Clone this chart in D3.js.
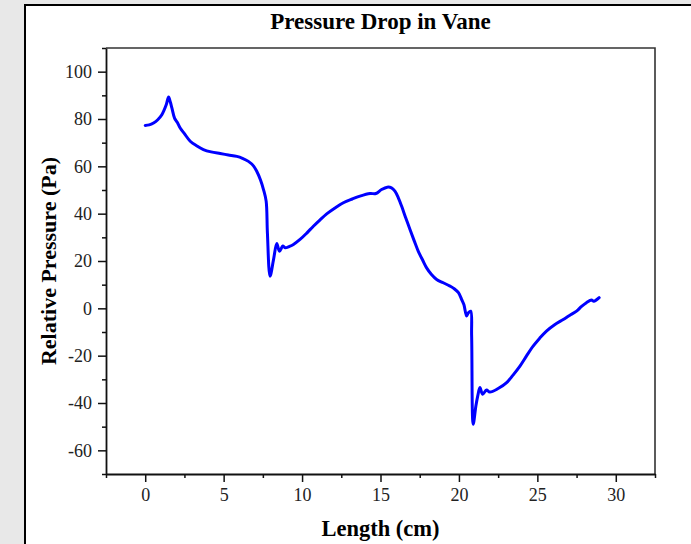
<!DOCTYPE html>
<html><head><meta charset="utf-8">
<script src="https://cdn.jsdelivr.net/npm/d3@7"></script>
<style>
html,body{margin:0;padding:0;background:#e8e8e8;overflow:hidden;}
svg{display:block;}
</style></head>
<body>
<script>
const titleText = "Pressure Drop in Vane";
const xLabel = "Length (cm)";
const yLabel = "Relative Pressure (Pa)";
const xMajorTicks = [0, 5, 10, 15, 20, 25, 30];
const xMinorTicks = [-2.5, 2.5, 7.5, 12.5, 17.5, 22.5, 27.5, 32.5];
const yMajorTicks = [-60, -40, -20, 0, 20, 40, 60, 80, 100];
const yMinorTicks = [-70, -50, -30, -10, 10, 30, 50, 70, 90, 110];
const lengthCm = [0, 0.25, 0.53, 0.8, 1.06, 1.34, 1.49, 1.6, 1.70, 1.87, 2.05, 2.23, 2.5, 2.87, 3.3, 3.71, 4.2, 4.78, 5.3, 5.84, 6.2, 6.58, 6.9, 7.11, 7.35, 7.54, 7.71, 7.79, 7.96, 8.18, 8.39, 8.56, 8.77, 8.92, 9.2, 9.45, 9.87, 10.3, 10.72, 11.15, 11.57, 12.1, 12.63, 13.2, 13.69, 14.33, 14.71, 15.07, 15.43, 15.7, 15.92, 16.15, 16.35, 16.6, 16.88, 17.15, 17.41, 17.7, 17.94, 18.25, 18.58, 19.0, 19.43, 19.7, 19.97, 20.17, 20.32, 20.49, 20.6, 20.75, 20.81, 20.91, 21.08, 21.2, 21.34, 21.51, 21.76, 21.97, 22.5, 23.04, 23.45, 23.89, 24.3, 24.73, 25.15, 25.58, 26.1, 26.65, 27.05, 27.5, 27.8, 28.13, 28.45, 28.6, 28.94];
const pressurePa = [77.3, 77.5, 78.3, 79.7, 81.8, 86, 89.3, 87.2, 84.7, 80.4, 78.5, 76.2, 73.8, 70.6, 68.6, 67.1, 66.1, 65.4, 64.8, 64.2, 63.4, 62.1, 60.2, 57.9, 54.2, 50.2, 45.3, 31.9, 13.6, 20.6, 27.4, 24.1, 26.3, 25.6, 26.2, 27, 29.1, 31.8, 34.7, 37.4, 39.9, 42.4, 44.6, 46.2, 47.4, 48.5, 48.5, 50.2, 51.2, 50.9, 49.5, 46.5, 43.1, 38.4, 33.3, 28.5, 24.1, 20.2, 17.1, 14.3, 12.2, 10.8, 9.4, 8.3, 6.6, 3.8, 1.5, -3.2, -1.9, -1.2, -11.7, -49, -41.3, -37, -33.5, -36.3, -34.5, -35.4, -33.9, -31.4, -28.2, -24.4, -20.2, -16, -12.6, -9.6, -6.9, -4.7, -3.0, -1.2, 0.7, 2.4, 3.5, 3.0, 4.5];

const W = 691, H = 544;
const L = 106, R = 655, T = 48, B = 474;
const svg = d3.select("body").append("svg").attr("width", W).attr("height", H);
svg.append("rect").attr("x", 0).attr("y", 0).attr("width", W).attr("height", H).attr("fill", "#e8e8e8");
svg.append("rect").attr("x", 25).attr("y", 5).attr("width", W + 20).attr("height", H + 20)
  .attr("fill", "#fff").attr("stroke", "#000").attr("stroke-width", 2);

const x = d3.scaleLinear().domain([-2.5, 32.5]).range([L, R]);
const y = d3.scaleLinear().domain([-70, 110]).range([B, T]);

const font = "'Liberation Serif', 'Times New Roman', serif";
const fmt = d => String(d);

// frame top & right
svg.append("path").attr("d", `M${L},${T}H${R}V${B}`).attr("fill", "none").attr("stroke", "#333").attr("stroke-width", 1.6);

function styleAxis(g) {
  g.select(".domain").attr("stroke", "#111").attr("stroke-width", 1.8);
  g.selectAll(".tick line").attr("stroke", "#111").attr("stroke-width", 1.5);
  g.selectAll(".tick text").attr("fill", "#222").style("font-family", font).style("font-size", "18px");
}

// minor ticks
svg.append("g").attr("transform", `translate(0,${B})`)
  .call(d3.axisBottom(x).tickValues(xMinorTicks).tickSize(4).tickFormat("").tickSizeOuter(0))
  .call(g => { styleAxis(g); g.select(".domain").remove(); });
svg.append("g").attr("transform", `translate(${L},0)`)
  .call(d3.axisLeft(y).tickValues(yMinorTicks).tickSize(4).tickFormat("").tickSizeOuter(0))
  .call(g => { styleAxis(g); g.select(".domain").remove(); });

svg.append("g").attr("transform", `translate(0,${B})`)
  .call(d3.axisBottom(x).tickValues(xMajorTicks).tickSize(8).tickPadding(6).tickSizeOuter(0).tickFormat(fmt))
  .call(styleAxis);
svg.append("g").attr("transform", `translate(${L},0)`)
  .call(d3.axisLeft(y).tickValues(yMajorTicks).tickSize(8).tickPadding(6).tickSizeOuter(0).tickFormat(fmt))
  .call(styleAxis);

// line
const line = d3.line().x((d, i) => x(lengthCm[i])).y(d => y(d)).curve(d3.curveCatmullRom.alpha(0.5));
svg.append("path").datum(pressurePa).attr("d", line)
  .attr("fill", "none").attr("stroke", "#0000ff").attr("stroke-width", 3)
  .attr("stroke-linejoin", "round").attr("stroke-linecap", "round");

// titles
svg.append("text").attr("x", (L + R) / 2).attr("y", 29).attr("text-anchor", "middle")
  .style("font-family", font).style("font-weight", "bold").style("font-size", "23px").attr("fill", "#000")
  .text(titleText);
svg.append("text").attr("x", (L + R) / 2).attr("y", 536).attr("text-anchor", "middle")
  .style("font-family", font).style("font-weight", "bold").style("font-size", "22.5px").attr("fill", "#000")
  .text(xLabel);
svg.append("text").attr("transform", `translate(56,${(T + B) / 2}) rotate(-90)`).attr("text-anchor", "middle")
  .style("font-family", font).style("font-weight", "bold").style("font-size", "22px").attr("fill", "#000")
  .text(yLabel);
</script>
</body></html>
